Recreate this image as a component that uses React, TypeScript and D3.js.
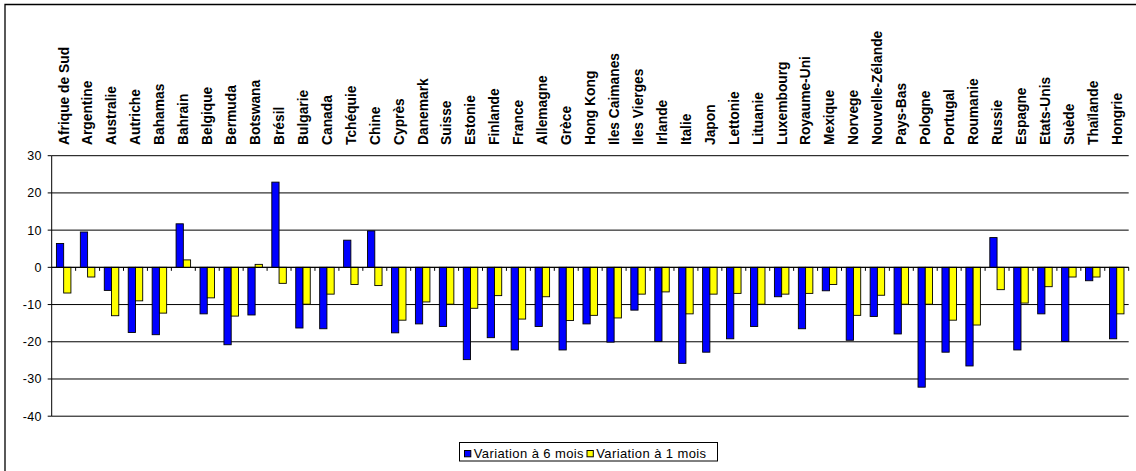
import React from "react";
import * as d3 from "d3";

const categories = [
  "Afrique de Sud", "Argentine", "Australie", "Autriche", "Bahamas", "Bahrain",
  "Belgique", "Bermuda", "Botswana", "Brésil", "Bulgarie", "Canada", "Tchéquie",
  "Chine", "Cyprès", "Danemark", "Suisse", "Estonie", "Finlande", "France",
  "Allemagne", "Grèce", "Hong Kong", "Iles Caimanes", "Iles Vierges", "Irlande",
  "Italie", "Japon", "Lettonie", "Lituanie", "Luxembourg", "Royaume-Uni", "Mexique",
  "Norvege", "Nouvelle-Zélande", "Pays-Bas", "Pologne", "Portugal", "Roumanie",
  "Russie", "Espagne", "Etats-Unis", "Suède", "Thaïlande", "Hongrie",
];

const variation6Mois = [
  6.4, 9.5, -6.2, -17.5, -18.1, 11.7, -12.5, -20.8, -12.8, 22.9, -16.3, -16.5,
  7.3, 9.8, -17.6, -15.2, -15.9, -24.8, -18.9, -22.2, -15.9, -22.2, -15.2, -20.1,
  -11.5, -19.9, -25.8, -22.8, -19.2, -15.9, -7.9, -16.5, -6.3, -19.6, -13.2, -17.9,
  -32.2, -22.8, -26.5, 8.0, -22.2, -12.5, -19.9, -3.6, -19.2,
];

const variation1Mois = [
  -6.9, -2.6, -13.0, -9.0, -12.3, 2.0, -8.2, -13.1, 0.8, -4.3, -9.9, -7.2,
  -4.6, -4.9, -14.2, -9.3, -9.9, -11.0, -7.6, -13.9, -7.9, -14.3, -12.9, -13.6,
  -7.2, -6.6, -12.5, -7.2, -7.0, -9.9, -7.2, -7.0, -4.6, -12.9, -7.5, -9.9,
  -9.9, -14.2, -15.5, -6.0, -9.6, -5.2, -2.6, -2.6, -12.5,
];

const seriesNames = ["Variation à 6 mois", "Variation à 1 mois"];
const seriesColors = ["#0000FF", "#FFFF00"];
const yTicks = [30, 20, 10, 0, -10, -20, -30, -40];

const W = 1136;
const H = 471;
const plot = { left: 51.7, right: 1128.7, top: 155.7, bottom: 416.2 };
const FONT = "'Liberation Sans', Arial, sans-serif";

export default function App() {
  const x = d3
    .scaleBand<string>()
    .domain(categories)
    .range([plot.left, plot.right]);
  const bw = x.bandwidth();
  const barW = bw / 3.3;
  const groupOffset = (bw - 2 * barW) / 2;

  const y = d3.scaleLinear().domain([-40, 30]).range([plot.bottom, plot.top]);
  const y0 = y(0);

  const series = [variation6Mois, variation1Mois];

  return (
    <svg
      width={W}
      height={H}
      style={{ position: "absolute", left: 0, top: 0, background: "#fff" }}
      fontFamily={FONT}
    >
      {/* chart frame */}
      <path d={`M5,${H} V4.5 H${W}`} fill="none" stroke="#000" strokeWidth={1.3} />

      {/* horizontal gridlines */}
      {yTicks.map((t) => (
        <line
          key={"g" + t}
          x1={plot.left}
          x2={plot.right}
          y1={y(t)}
          y2={y(t)}
          stroke="#000"
          strokeWidth={1}
        />
      ))}

      {/* value axis */}
      <line x1={plot.left} x2={plot.left} y1={plot.top} y2={plot.bottom} stroke="#000" />
      {yTicks.map((t) => (
        <g key={"t" + t}>
          <line x1={plot.left - 4} x2={plot.left} y1={y(t)} y2={y(t)} stroke="#000" />
          <text
            x={plot.left - 10}
            y={y(t)}
            dy="0.35em"
            textAnchor="end"
            fontSize={12.5}
            letterSpacing={0.3}
            fill="#000"
          >
            {t}
          </text>
        </g>
      ))}

      {/* bars */}
      {categories.map((c, i) => (
        <g key={"b" + c}>
          {series.map((s, k) => {
            const v = s[i];
            const bx = (x(c) as number) + groupOffset + k * barW;
            const top = Math.min(y(v), y0);
            const h = Math.abs(y(v) - y0);
            return (
              <rect
                key={k}
                x={bx}
                y={top}
                width={barW}
                height={h}
                fill={seriesColors[k]}
                stroke="#000"
                strokeWidth={0.9}
              />
            );
          })}
        </g>
      ))}

      {/* category axis along zero */}
      <line x1={plot.left} x2={plot.right} y1={y0} y2={y0} stroke="#000" />
      {categories.map((c) => (
        <line
          key={"ct" + c}
          x1={(x(c) as number) + bw}
          x2={(x(c) as number) + bw}
          y1={y0}
          y2={y0 + 3.5}
          stroke="#000"
        />
      ))}

      {/* category labels above the plot */}
      {categories.map((c) => {
        const cx = (x(c) as number) + bw / 2;
        const ty = 145;
        return (
          <text
            key={"l" + c}
            transform={`translate(${cx},${ty}) rotate(-90)`}
            dy="0.35em"
            fontSize={13.8}
            fontWeight="bold"
            fill="#000"
          >
            {c}
          </text>
        );
      })}

      {/* legend */}
      <g>
        <rect x={459.5} y={442.5} width={258} height={18.5} fill="#fff" stroke="#000" />
        {seriesNames.map((n, k) => {
          const lx = k === 0 ? 464.5 : 587;
          return (
            <g key={n}>
              <rect x={lx} y={450.5} width={6.3} height={6.3} fill={seriesColors[k]} stroke="#000" />
              <text
                x={lx + 9.2}
                y={453.8}
                dy="0.35em"
                fontSize={13}
                letterSpacing={0.4}
                fill="#000"
              >
                {n}
              </text>
            </g>
          );
        })}
      </g>
    </svg>
  );
}
